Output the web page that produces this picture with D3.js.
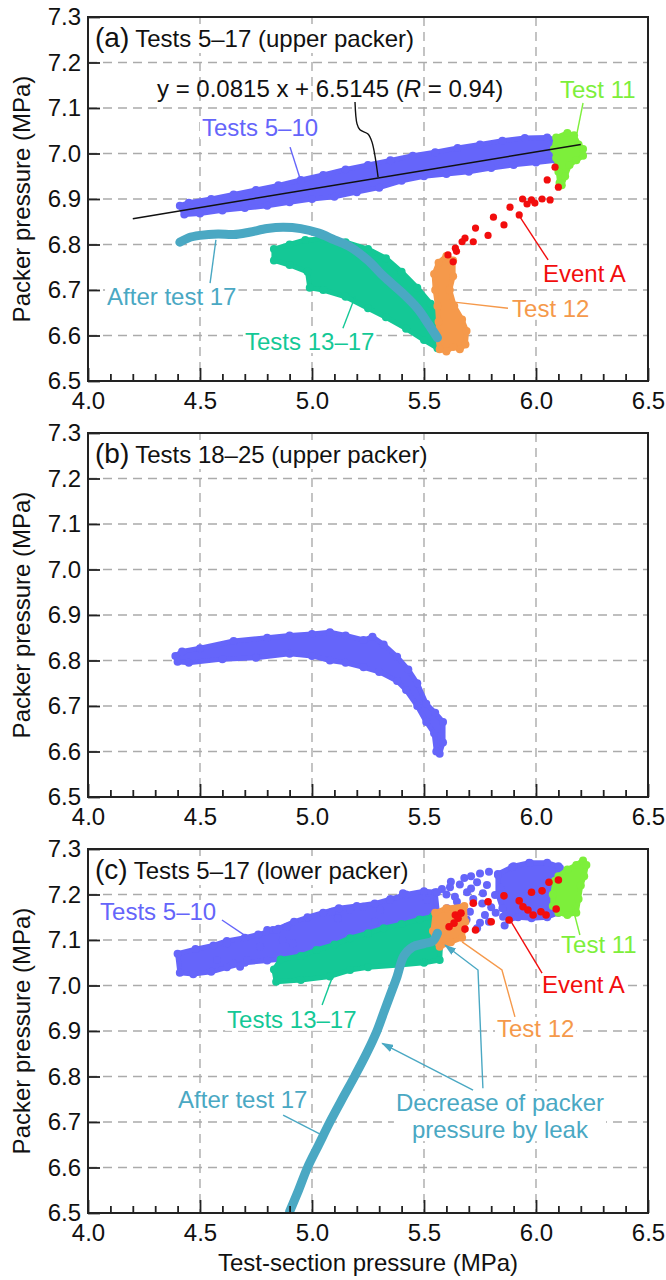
<!DOCTYPE html>
<html>
<head>
<meta charset="utf-8">
<script src="https://cdn.jsdelivr.net/npm/d3@7"></script>
<style>
  body { margin: 0; background: #fff; }
  svg text { font-family: "Liberation Sans", Arial, Helvetica, sans-serif; fill: #111; }
</style>
</head>
<body>
<div id="chart"></div>
<script>
////////////////////////////////////////////////////////////////////
////////////////////////////  Data  ////////////////////////////////
// axes
const xTicks = [4.0, 4.5, 5.0, 5.5, 6.0, 6.5];
const xMinorTicks = [4.1, 4.2, 4.3, 4.4, 4.6, 4.7, 4.8, 4.9, 5.1, 5.2, 5.3, 5.4,
  5.6, 5.7, 5.8, 5.9, 6.1, 6.2, 6.3, 6.4];
const yTicks = [6.5, 6.6, 6.7, 6.8, 6.9, 7.0, 7.1, 7.2, 7.3];
const gridX = [4.5, 5.0, 5.5, 6.0];
const gridY = [6.6, 6.7, 6.8, 6.9, 7.0, 7.1, 7.2];

// (a) upper packer, tests 5-17  [test-section pressure, packer pressure]
const aTests5to10 = [[4.41, 6.885], [4.45, 6.892], [4.55, 6.9], [4.65, 6.91], [4.75, 6.92],
  [4.85, 6.93], [4.95, 6.942], [5.05, 6.953], [5.15, 6.965], [5.25, 6.975], [5.35, 6.985],
  [5.45, 6.995], [5.55, 7.003], [5.65, 7.012], [5.75, 7.02], [5.85, 7.028], [5.95, 7.034],
  [6.05, 7.035], [6.09, 7.03], [6.09, 6.985], [6.0, 6.98], [5.9, 6.975], [5.8, 6.968],
  [5.7, 6.96], [5.6, 6.955], [5.5, 6.95], [5.4, 6.94], [5.3, 6.925], [5.2, 6.915],
  [5.1, 6.905], [5.0, 6.9], [4.9, 6.893], [4.8, 6.885], [4.7, 6.88], [4.6, 6.875],
  [4.5, 6.868], [4.43, 6.866]];
const aTest11 = [[6.09, 7.035], [6.14, 7.045], [6.17, 7.04], [6.19, 7.02], [6.21, 7.01],
  [6.21, 6.995], [6.18, 6.985], [6.15, 6.975], [6.13, 6.95], [6.115, 6.93], [6.105, 6.935],
  [6.1, 6.96], [6.09, 6.99], [6.08, 7.01]];
const aEventA = [[6.085, 6.97], [6.05, 6.942], [6.10, 6.926], [5.94, 6.90], [5.98, 6.898],
  [5.995, 6.891], [6.027, 6.90], [6.063, 6.898], [5.96, 6.889], [5.884, 6.882], [5.81, 6.86],
  [5.925, 6.865], [5.857, 6.843], [5.73, 6.836], [5.786, 6.82], [5.72, 6.806], [5.683, 6.814],
  [5.67, 6.806], [5.64, 6.792], [5.645, 6.785], [5.607, 6.777], [5.63, 6.762]];
const aTest12 = [[5.6, 6.775], [5.63, 6.765], [5.63, 6.73], [5.615, 6.7], [5.635, 6.665],
  [5.67, 6.635], [5.69, 6.61], [5.685, 6.58], [5.66, 6.57], [5.63, 6.575], [5.6, 6.565],
  [5.57, 6.57], [5.56, 6.6], [5.565, 6.63], [5.56, 6.665], [5.55, 6.7], [5.545, 6.735],
  [5.565, 6.76]];
const aTests13to17 = [[4.83, 6.79], [4.9, 6.8], [4.97, 6.81], [5.05, 6.812], [5.15, 6.805],
  [5.25, 6.79], [5.33, 6.77], [5.4, 6.74], [5.47, 6.705], [5.53, 6.67], [5.57, 6.64],
  [5.58, 6.6], [5.56, 6.572], [5.5, 6.59], [5.42, 6.615], [5.33, 6.64], [5.25, 6.66],
  [5.15, 6.685], [5.05, 6.7], [4.99, 6.705], [4.98, 6.74], [4.9, 6.755], [4.83, 6.765]];
const aAfter17 = [[4.41, 6.805], [4.45, 6.815], [4.5, 6.82], [4.58, 6.823], [4.65, 6.822],
  [4.72, 6.827], [4.8, 6.835], [4.87, 6.838], [4.95, 6.835], [5.03, 6.825], [5.1, 6.81],
  [5.17, 6.795], [5.25, 6.765], [5.32, 6.73], [5.4, 6.695], [5.47, 6.66], [5.52, 6.625],
  [5.56, 6.595]];
const fitSlope = 0.0815;
const fitIntercept = 6.5145;
const fitRange = [4.2, 6.2];

// (b) upper packer, tests 18-25
const bTests18to25 = [[4.39, 6.81], [4.42, 6.82], [4.5, 6.827], [4.65, 6.843], [4.8, 6.85],
  [4.9, 6.855], [5.0, 6.858], [5.08, 6.862], [5.15, 6.855], [5.23, 6.845], [5.27, 6.852],
  [5.32, 6.835], [5.38, 6.808], [5.43, 6.78], [5.47, 6.75], [5.51, 6.705], [5.55, 6.685],
  [5.585, 6.665], [5.585, 6.62], [5.57, 6.595], [5.555, 6.6], [5.545, 6.64], [5.51, 6.665],
  [5.47, 6.7], [5.42, 6.735], [5.38, 6.755], [5.3, 6.775], [5.23, 6.785], [5.15, 6.795],
  [5.08, 6.8], [5.0, 6.81], [4.9, 6.815], [4.75, 6.806], [4.6, 6.803], [4.45, 6.795],
  [4.4, 6.797]];

// (c) lower packer, tests 5-17
const cTests5to10Left = [[4.40, 7.07], [4.48, 7.08], [4.56, 7.088], [4.62, 7.098], [4.7, 7.105],
  [4.76, 7.112], [4.85, 7.125], [4.92, 7.14], [4.98, 7.15], [5.05, 7.16], [5.12, 7.17],
  [5.2, 7.175], [5.28, 7.18], [5.35, 7.19], [5.42, 7.2], [5.5, 7.207], [5.55, 7.205],
  [5.56, 7.16], [5.5, 7.12], [5.3, 7.1], [5.1, 7.08], [4.9, 7.06], [4.8, 7.055], [4.7, 7.05],
  [4.62, 7.04], [4.55, 7.03], [4.47, 7.025], [4.41, 7.028]];
const cTests5to10Right = [[5.83, 7.245], [5.9, 7.262], [5.97, 7.27], [6.05, 7.27], [6.1, 7.262],
  [6.1, 7.16], [6.05, 7.15], [5.98, 7.148], [5.92, 7.15], [5.88, 7.145], [5.85, 7.17],
  [5.83, 7.2]];
const cTests5to10Dots = [[4.576, 7.056], [4.647, 7.049], [4.71, 7.056], [4.679, 7.041],
  [4.768, 7.085], [4.8, 7.122], [4.826, 7.122], [4.888, 7.129], [4.62, 7.093], [4.842, 7.122],
  [4.87, 7.1], [4.915, 7.093], [5.089, 7.162], [5.116, 7.148], [5.17, 7.166], [5.228, 7.173],
  [5.281, 7.14], [5.304, 7.166], [5.348, 7.188], [5.362, 7.129], [5.406, 7.203], [5.513, 7.188],
  [5.558, 7.205], [5.616, 7.216], [5.638, 7.195], [5.737, 7.227], [5.781, 7.221], [5.83, 7.243],
  [5.692, 7.205], [5.763, 7.203], [5.817, 7.199], [5.737, 7.126], [5.772, 7.155], [5.705, 7.162],
  [5.853, 7.151], [5.893, 7.26], [5.973, 7.269], [6.107, 7.258], [5.647, 7.184], [5.603, 7.17],
  [5.6, 7.2], [5.62, 7.228], [5.66, 7.222], [5.68, 7.236], [5.71, 7.24], [5.75, 7.246],
  [5.79, 7.25], [5.72, 7.19], [5.76, 7.18], [5.8, 7.172], [5.84, 7.215], [5.69, 7.145],
  [5.75, 7.138], [5.82, 7.16], [5.86, 7.132], [5.58, 7.212], [5.67, 7.17], [5.71, 7.213],
  [5.79, 7.14]];
const cTest11 = [[6.1, 7.24], [6.14, 7.255], [6.18, 7.265], [6.21, 7.275], [6.225, 7.265],
  [6.215, 7.24], [6.2, 7.22], [6.19, 7.19], [6.18, 7.16], [6.14, 7.155], [6.1, 7.16],
  [6.075, 7.175], [6.075, 7.2], [6.085, 7.23]];
const cTests13to17 = [[4.83, 7.035], [4.86, 7.057], [4.95, 7.065], [5.02, 7.078], [5.1, 7.09],
  [5.17, 7.104], [5.25, 7.115], [5.32, 7.126], [5.4, 7.135], [5.48, 7.145], [5.54, 7.152],
  [5.57, 7.15], [5.575, 7.1], [5.57, 7.056], [5.5, 7.05], [5.39, 7.045], [5.25, 7.04],
  [5.17, 7.034], [5.08, 7.02], [4.95, 7.012], [4.84, 7.008]];
const cTest12 = [[5.55, 7.16], [5.6, 7.17], [5.68, 7.175], [5.685, 7.14], [5.67, 7.105],
  [5.62, 7.095], [5.57, 7.085], [5.545, 7.1], [5.54, 7.12]];
const cEventA = [[6.058, 7.227], [6.10, 7.232], [5.98, 7.205], [6.027, 7.208], [5.857, 7.197],
  [5.925, 7.186], [5.942, 7.173], [5.964, 7.166], [5.987, 7.155], [6.022, 7.162], [6.045, 7.155],
  [6.09, 7.168], [5.72, 7.181], [5.786, 7.184], [5.80, 7.14], [5.88, 7.144], [5.73, 7.122],
  [5.683, 7.124], [5.64, 7.155], [5.665, 7.159], [5.652, 7.148], [5.634, 7.137], [5.612, 7.129]];
const cAfter17 = [[4.9, 6.503], [4.94, 6.55], [4.98, 6.6], [5.03, 6.65], [5.08, 6.7],
  [5.14, 6.755], [5.19, 6.8], [5.245, 6.852], [5.29, 6.9], [5.32, 6.94], [5.35, 6.98],
  [5.38, 7.02], [5.41, 7.065], [5.45, 7.085], [5.5, 7.092], [5.54, 7.098], [5.56, 7.115]];

////////////////////////////////////////////////////////////////////
////////////////////////////  Init  ////////////////////////////////
const width = 666;
const height = 1280;
const plotLeft = 88;
const plotRight = 648;
const plotH = 364;
const panelTops = [17, 433, 849];

const color = {
  t510: "#6565fa",
  t11: "#7def3b",
  eventA: "#f20d0d",
  t12: "#f5994b",
  t1317: "#14c896",
  after17: "#4aa8c3",
  grid: "#ababab",
};

const svg = d3.select("#chart").append("svg")
  .attr("width", width).attr("height", height);

const defs = svg.append("defs");
defs.append("marker")
  .attr("id", "arrow")
  .attr("markerUnits", "userSpaceOnUse")
  .attr("markerWidth", 12).attr("markerHeight", 8)
  .attr("refX", 11).attr("refY", 4)
  .attr("orient", "auto")
  .append("path")
  .attr("d", "M0,0 L12,4 L0,8 Z")
  .attr("fill", color.after17);

const xScale = d3.scaleLinear().domain([4, 6.5]).range([plotLeft, plotRight]);

const line = (ys) => d3.line().x((d) => xScale(d[0])).y((d) => ys(d[1]));

function drawPanel(i, title) {
  const top = panelTops[i];
  const yScale = d3.scaleLinear().domain([6.5, 7.3]).range([top + plotH, top]);
  const g = svg.append("g");

  defs.append("clipPath").attr("id", "clip" + i)
    .append("rect")
    .attr("x", plotLeft).attr("y", top)
    .attr("width", plotRight - plotLeft).attr("height", plotH);

  // grid
  g.append("g").selectAll("line").data(gridX).enter().append("line")
    .attr("x1", (d) => xScale(d)).attr("x2", (d) => xScale(d))
    .attr("y1", top).attr("y2", top + plotH)
    .attr("stroke", color.grid).attr("stroke-width", 1.4).attr("stroke-dasharray", "9,6");
  g.append("g").selectAll("line").data(gridY).enter().append("line")
    .attr("x1", plotLeft).attr("x2", plotRight)
    .attr("y1", (d) => yScale(d)).attr("y2", (d) => yScale(d))
    .attr("stroke", color.grid).attr("stroke-width", 1.4).attr("stroke-dasharray", "9,6");

  const bgLayer = g.append("g");
  const dataLayer = g.append("g").attr("clip-path", `url(#clip${i})`);
  const leaderLayer = g.append("g");
  const labelLayer = g.append("g");

  // title
  const t = labelLayer.append("text")
    .attr("x", 95).attr("y", top + 30)
    .style("font-size", "28px").text(title[0]);
  t.append("tspan").attr("dx", 6).style("font-size", "24px").text(title[1]);
  const tb = t.node().getBBox();
  bgLayer.append("rect")
    .attr("x", tb.x - 2).attr("y", tb.y + 2)
    .attr("width", tb.width + 4).attr("height", tb.height - 2)
    .attr("fill", "#fff");

  // axes
  const xAxis = d3.axisBottom(xScale).tickValues(xTicks).tickSize(-13)
    .tickPadding(11).tickFormat(d3.format(".1f"));
  const xMinor = d3.axisBottom(xScale).tickValues(xMinorTicks).tickSize(-7).tickFormat("");
  const yAxis = d3.axisLeft(yScale).tickValues(yTicks).tickSize(-12)
    .tickPadding(7).tickFormat(d3.format(".1f"));

  const axes = g.append("g");
  [xAxis, xMinor].forEach((ax) => {
    axes.append("g").attr("transform", `translate(0,${top + plotH})`).call(ax);
  });
  axes.append("g").attr("transform", `translate(${plotLeft},0)`).call(yAxis);
  axes.selectAll(".domain").remove();
  axes.selectAll(".tick line").attr("stroke", "#222").attr("stroke-width", 1.8);
  axes.selectAll(".tick text").style("font-size", "24px").attr("fill", "#111")
    .style("font-family", "'Liberation Sans', Arial, sans-serif");

  axes.append("rect")
    .attr("x", plotLeft).attr("y", top)
    .attr("width", plotRight - plotLeft).attr("height", plotH)
    .attr("fill", "none").attr("stroke", "#222").attr("stroke-width", 2);

  // y title
  g.append("text")
    .attr("transform", `translate(30,${top + plotH / 2}) rotate(-90)`)
    .attr("text-anchor", "middle")
    .style("font-size", "24px")
    .text("Packer pressure (MPa)");

  return { g, yScale, bgLayer, dataLayer, leaderLayer, labelLayer };
}

function cloud(p, pts, fill) {
  p.dataLayer.append("path")
    .datum(pts)
    .attr("d", line(p.yScale).curve(d3.curveLinearClosed))
    .attr("fill", fill).attr("stroke", fill)
    .attr("stroke-width", 5).attr("stroke-linejoin", "round");
  dots(p, pts, fill, 4);
}

function dots(p, pts, fill, r) {
  p.dataLayer.append("g").selectAll("circle").data(pts).enter().append("circle")
    .attr("cx", (d) => xScale(d[0])).attr("cy", (d) => p.yScale(d[1]))
    .attr("r", r).attr("fill", fill);
}

function thickLine(p, pts, stroke) {
  p.dataLayer.append("path")
    .datum(pts)
    .attr("d", line(p.yScale).curve(d3.curveCatmullRom))
    .attr("fill", "none").attr("stroke", stroke)
    .attr("stroke-width", 9).attr("stroke-linecap", "round").attr("stroke-linejoin", "round");
}

// label with white box behind, leader polyline
function label(p, text, pos, fill, leader, opts = {}) {
  const lines = Array.isArray(text) ? text : [text];
  const txt = p.labelLayer.append("text")
    .attr("x", xScale(pos[0])).attr("y", p.yScale(pos[1]))
    .attr("text-anchor", opts.anchor || "start")
    .style("font-size", "24px")
    .style("fill", fill);
  lines.forEach((l, k) => {
    txt.append("tspan").attr("x", xScale(pos[0])).attr("dy", k ? 27 : 0).text(l);
  });
  if (!opts.noBg) {
    const bb = txt.node().getBBox();
    p.bgLayer.append("rect")
      .attr("x", bb.x - 2).attr("y", bb.y + 2)
      .attr("width", bb.width + 4).attr("height", bb.height - 4)
      .attr("fill", "#fff");
  }
  if (leader) {
    p.leaderLayer.append("path")
      .datum(leader)
      .attr("d", line(p.yScale).curve(opts.curve || d3.curveLinear))
      .attr("fill", "none").attr("stroke", opts.leaderColor || fill)
      .attr("stroke-width", 1.4)
      .attr("marker-end", opts.arrow ? "url(#arrow)" : null);
  }
  return txt;
}

////////////////////////////////////////////////////////////////////
////////////////////////////  Panel (a)  ///////////////////////////
const pa = drawPanel(0, ["(a)", "Tests 5\u201317 (upper packer)"]);
cloud(pa, aTests5to10, color.t510);
cloud(pa, aTest11, color.t11);
cloud(pa, aTests13to17, color.t1317);
cloud(pa, aTest12, color.t12);
dots(pa, aEventA, color.eventA, 3.6);
thickLine(pa, aAfter17, color.after17);

pa.dataLayer.append("line")
  .attr("x1", xScale(fitRange[0])).attr("y1", pa.yScale(fitSlope * fitRange[0] + fitIntercept))
  .attr("x2", xScale(fitRange[1])).attr("y2", pa.yScale(fitSlope * fitRange[1] + fitIntercept))
  .attr("stroke", "#111").attr("stroke-width", 1.5);

const eq = label(pa, "", [4.308, 7.124], "#111",
  [[5.192, 7.113], [5.201, 7.065], [5.214, 7.052], [5.25, 7.043], [5.268, 7.025], [5.295, 6.948]],
  { noBg: true, curve: d3.curveCatmullRom });
eq.select("tspan").text(`y = ${fitSlope} x + ${fitIntercept} (`);
eq.append("tspan").style("font-style", "italic").text("R");
eq.append("tspan").text(" = 0.94)");

label(pa, "Tests 5\u201310", [4.509, 7.038], color.t510, [[4.902, 7.014], [4.946, 6.946]]);
label(pa, "Test 11", [6.107, 7.122], color.t11, [[6.21, 7.111], [6.183, 7.045]]);
label(pa, "Event A", [6.031, 6.718], color.eventA, [[6.054, 6.766], [5.929, 6.860]]);
label(pa, "Test 12", [5.893, 6.641], color.t12, [[5.875, 6.660], [5.625, 6.674]]);
label(pa, "Tests 13\u201317", [4.701, 6.568], color.t1317, [[5.138, 6.616], [5.192, 6.685]]);
label(pa, "After test 17", [4.085, 6.667], color.after17, [[4.545, 6.715], [4.571, 6.81]]);

////////////////////////////////////////////////////////////////////
////////////////////////////  Panel (b)  ///////////////////////////
const pb = drawPanel(1, ["(b)", "Tests 18\u201325 (upper packer)"]);
cloud(pb, bTests18to25, color.t510);

////////////////////////////////////////////////////////////////////
////////////////////////////  Panel (c)  ///////////////////////////
const pc = drawPanel(2, ["(c)", "Tests 5\u201317 (lower packer)"]);
cloud(pc, cTests5to10Left, color.t510);
cloud(pc, cTests5to10Right, color.t510);
dots(pc, cTests5to10Dots, color.t510, 4);
cloud(pc, cTest11, color.t11);
cloud(pc, cTests13to17, color.t1317);
cloud(pc, cTest12, color.t12);
dots(pc, cEventA, color.eventA, 3.8);
thickLine(pc, cAfter17, color.after17);

label(pc, "Tests 5\u201310", [4.054, 7.144], color.t510, [[4.598, 7.144], [4.71, 7.107]]);
label(pc, "Tests 13\u201317", [4.621, 6.907], color.t1317, [[5.045, 6.957], [5.089, 7.016]]);
label(pc, "Test 11", [6.112, 7.071], color.t11, [[6.196, 7.111], [6.161, 7.177]]);
label(pc, "Event A", [6.027, 6.984], color.eventA, [[6.027, 7.027], [5.884, 7.144]]);
label(pc, "Test 12", [5.826, 6.887], color.t12, [[5.906, 6.931], [5.848, 7.034], [5.67, 7.096]]);
label(pc, "After test 17", [4.402, 6.731], color.after17, [[4.871, 6.715], [5.045, 6.671]]);
label(pc, ["Decrease of packer", "pressure by leak"], [5.839, 6.724], color.after17,
  [[5.719, 6.770], [5.313, 6.873]], { anchor: "middle", arrow: true });
pc.leaderLayer.append("path")
  .datum([[5.763, 6.774], [5.741, 7.034], [5.594, 7.089]])
  .attr("d", line(pc.yScale))
  .attr("fill", "none").attr("stroke", color.after17).attr("stroke-width", 1.4)
  .attr("marker-end", "url(#arrow)");

// x title
svg.append("text")
  .attr("x", (plotLeft + plotRight) / 2).attr("y", 1271)
  .attr("text-anchor", "middle")
  .style("font-size", "24px")
  .text("Test-section pressure (MPa)");
</script>
</body>
</html>
